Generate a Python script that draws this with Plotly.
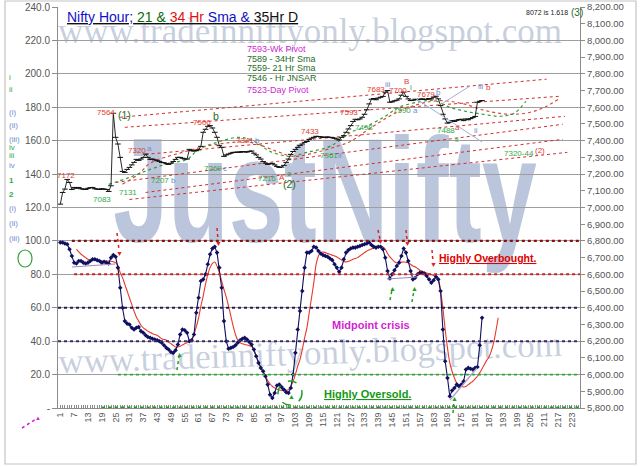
import plotly.graph_objects as go

# ---- data --------------------------------------------------------------------
bar_no = list(range(1, 185))
close = [
    7020, 7090, 7110, 7168, 7150, 7108, 7120, 7115, 7120, 7112,
    7110, 7108, 7115, 7118, 7120, 7112, 7110, 7108, 7112, 7110,
    7108, 7096, 7130, 7564, 7420, 7380, 7300, 7216, 7210, 7228,
    7240, 7255, 7270, 7288, 7282, 7290, 7300, 7320, 7300, 7288,
    7290, 7285, 7280, 7276, 7270, 7268, 7262, 7258, 7265, 7275,
    7288, 7300, 7300, 7295, 7290, 7290, 7348, 7340, 7338, 7340,
    7345, 7366, 7450, 7468, 7486, 7490, 7476, 7450, 7420, 7370,
    7360, 7306, 7315, 7320, 7325, 7330, 7330, 7332, 7330, 7335,
    7333, 7332, 7336, 7338, 7325, 7315, 7300, 7290, 7275, 7265,
    7258, 7262, 7264, 7255, 7245, 7240, 7242, 7252, 7270, 7290,
    7318, 7335, 7348, 7360, 7372, 7380, 7390, 7395, 7408, 7415,
    7420, 7426, 7425, 7422, 7420, 7420, 7422, 7420, 7418, 7415,
    7410, 7404, 7420, 7430, 7450, 7470, 7490, 7515, 7528, 7525,
    7530, 7540, 7558, 7585, 7620, 7648, 7652, 7645, 7655, 7660,
    7665, 7690, 7700, 7630, 7632, 7638, 7642, 7650, 7672, 7690,
    7665, 7650, 7640, 7642, 7648, 7645, 7648, 7650, 7646, 7648,
    7652, 7650, 7660, 7666, 7650, 7610, 7558, 7530, 7505, 7510,
    7520, 7515, 7522, 7526, 7528, 7520, 7530, 7525, 7532, 7538,
    7545, 7630, 7636, 7640,
]
osc = [
    99, 99, 98.5, 98, 95, 91, 87, 86.5, 88, 88,
    87, 86.5, 87, 88, 89, 89, 88.5, 88, 87, 87.5,
    87, 86.5, 90, 91.5, 90.5, 84, 72, 60, 52, 50.5,
    50, 48, 47, 48, 48.5, 46, 45, 43.5, 42.5, 42,
    41.5, 41, 40.5, 40, 39, 37.5, 36, 35, 33.5, 33,
    34.5, 38, 44, 47, 46.5, 45, 40, 40.5, 44, 57,
    66, 76, 77, 80, 86, 92, 95.5, 96.5, 93, 84,
    72, 52, 40, 35.5, 36, 36.5, 37.5, 39, 40.5, 41.5,
    42, 41, 39.5, 38, 35, 31, 27, 24, 22, 19,
    14, 8, 6, 9, 13.5, 14, 12.5, 11, 9.5, 9,
    12, 20, 33, 47, 58, 70, 84, 93, 93, 94,
    96.5, 96, 94, 92.5, 91.5, 91, 90.5, 89.5, 88.5, 86,
    84, 81.5, 84, 89, 93, 94.5, 95.5, 96, 96, 96.5,
    97, 97.5, 98, 98.5, 99, 97.5, 96.5, 96, 96.5, 96.5,
    95, 90, 82, 77.5, 80, 82.5, 85, 87, 91, 95.5,
    93, 88, 82, 77, 78, 80, 81, 81, 80.5, 79,
    77, 75, 76.5, 78.5, 77, 70, 47, 28, 18, 7,
    10.5, 12, 14, 13, 14, 16, 23, 24, 23.5, 23,
    24, 24.5, 37.5, 54,
]
signal_no = list(range(8, 192))
signal = [
    95, 93.5, 92, 91, 90, 89, 88.5, 88.5, 88.5, 88.3,
    88.2, 88, 88, 88, 88, 87.8, 87.5, 87, 85, 81,
    78, 74, 70, 66, 62, 58, 54.5, 52, 49.5, 48,
    47, 46, 45.2, 44.5, 44, 43.5, 42.5, 41.5, 41, 40.7,
    39.5, 38.5, 37.5, 36.5, 36.5, 37, 37.7, 38.5, 39, 40,
    40.7, 44, 48.5, 54, 61, 67, 74, 80, 84, 86.5,
    87.4, 85, 81, 76, 71, 66.5, 61, 55, 49, 44,
    40.5, 39, 38.5, 38, 37.7, 37.3, 36.8, 35, 31, 27.5,
    24, 22, 19.5, 16.5, 14.5, 13, 12, 11.2, 10.8, 10.5,
    10.5, 10.6, 11, 13, 16, 20, 25, 29, 35, 42,
    48, 57, 66, 75, 86, 91, 93, 93.4, 93, 92.5,
    92, 91.5, 91, 90.4, 89.5, 88.5, 87.8, 87.4, 87.8, 88.4,
    89, 89.5, 90, 91, 92, 93, 94, 94.6, 95.2, 95.7,
    96, 96.3, 96.4, 96.4, 95, 92.5, 90.4, 89, 87.5, 86.8,
    87, 87.3, 87.4, 87.2, 86.9, 86, 85, 84.5, 83.5, 82.5,
    81.8, 81.2, 80.8, 80.3, 79.8, 79.3, 78.6, 77, 70, 60,
    47, 36, 27, 22, 18, 15, 14, 13, 12.6, 12.8,
    14, 15, 16, 17.5, 19, 21, 23.5, 26, 28.5, 30.5,
    34, 39, 46, 54,
]
sma21_no = [22, 31, 40, 48, 56, 61, 69, 79, 86, 92, 101, 108, 117, 121, 127,
            133, 142, 148, 156, 163, 170, 177, 184, 192, 198, 203]
sma21 = [7138, 7180, 7228, 7264, 7288, 7348, 7390, 7420, 7390, 7336, 7306, 7330,
         7360, 7390, 7450, 7480, 7546, 7600, 7630, 7640, 7600, 7575, 7559, 7546,
         7565, 7635]
sma34_no = [28, 35, 40, 54, 69, 83, 95, 102, 112, 121, 127, 135, 147, 157, 166,
            176, 186, 196, 205, 212, 217]
sma34 = [7140, 7200, 7265, 7330, 7378, 7390, 7336, 7306, 7330, 7366, 7396, 7470,
         7570, 7620, 7640, 7620, 7578, 7558, 7570, 7606, 7648]
# hand drawn channel lines: (bar, price) -> (bar, price)
channels = [
    (27, 7540, 212, 7768),
    (29, 7480, 218, 7666),
    (38, 7318, 220, 7546),
    (25, 7150, 219, 7498),
    (38, 7090, 219, 7408),
    (31, 7048, 221, 7330),
]
left_ticks = list(range(0, 241, 20))
left_labels = ["-"] + [f"{v:.1f}" for v in left_ticks[1:]]
right_ticks = list(range(5800, 8201, 100))
x_ticks = list(range(1, 224, 6))
pivots = ["7593-Wk Pivot", "7589 - 34Hr Sma", "7559- 21 Hr Sma",
          "7546 - Hr JNSAR", "7523-Day Pivot"]

RED = "#e23a2e"
GREEN = "#35a84a"
DKGREEN = "#1f6b1f"
BLUE = "#6f8fd0"
MAGENTA = "#d21fd2"
NAVY = "#101060"
FONT = "Liberation Sans, Arial, sans-serif"


def px(x):
    return (x - 58) / 522


def py(y):
    return (408 - y) / 401


fig = go.Figure()

for x0, p0, x1, p1 in channels:
    fig.add_trace(go.Scatter(x=[x0, x1], y=[p0, p1], yaxis="y2", mode="lines",
                             line=dict(color="#d03030", width=1, dash="dot"),
                             hoverinfo="skip", showlegend=False))
fig.add_trace(go.Scatter(x=sma34_no, y=sma34, yaxis="y2", mode="lines",
                         line=dict(color="#d84a3a", width=1.2, dash="dot", shape="spline"),
                         showlegend=False))
fig.add_trace(go.Scatter(x=sma21_no, y=sma21, yaxis="y2", mode="lines",
                         line=dict(color="#3a9a3a", width=1.2, dash="dot", shape="spline"),
                         showlegend=False))
fig.add_trace(go.Scatter(x=bar_no, y=close, yaxis="y2", mode="lines+markers",
                         line=dict(color="#111111", width=0.9),
                         marker=dict(symbol="line-ew", size=4, line=dict(color="#111111", width=1)),
                         showlegend=False))
fig.add_trace(go.Scatter(x=signal_no, y=signal, mode="lines",
                         line=dict(color="#e8392a", width=1.1, shape="spline"),
                         showlegend=False))
fig.add_trace(go.Scatter(x=bar_no, y=osc, mode="lines+markers",
                         line=dict(color=NAVY, width=1.1),
                         marker=dict(symbol="diamond", size=3.5, color=NAVY),
                         showlegend=False))

shapes = []
# oscillator reference levels
level_style = [
    (100, 6, "#8a1010", 2.2), (80, 7, "#d02020", 2), (60, 0, "#2a1850", 2),
    (40, 0, "#3a2a70", 2), (20, 26, "#2faa2f", 1.6), (0, 19, "#1d9a1d", 3.2),
]
for lvl, start, color, width in level_style:
    shapes.append(dict(type="line", xref="x", yref="y", x0=start, x1=226.5, y0=lvl, y1=lvl,
                       line=dict(color=color, width=width, dash="dot")))

# watermarks (below the data)
shapes.append(dict(type="rect", xref="paper", yref="paper", x0=px(60), x1=px(560),
                   y0=py(46), y1=py(8), layer="below", line=dict(width=0),
                   label=dict(text="www.tradeinniftyonly.blogspot.com",
                              font=dict(family="Liberation Serif, serif", size=35,
                                        color="rgba(120,140,178,0.42)"))))
shapes.append(dict(type="rect", xref="paper", yref="paper", x0=px(60), x1=px(560),
                   y0=py(372), y1=py(326), layer="below", line=dict(width=0),
                   label=dict(text="www.tradeinniftyonly.blogspot.com", textangle=-2,
                              font=dict(family="Liberation Serif, serif", size=35,
                                        color="rgba(120,140,178,0.42)"))))
shapes.append(dict(type="rect", xref="paper", yref="paper", x0=px(120), x1=px(530),
                   y0=py(236), y1=py(126), layer="below", line=dict(width=0),
                   label=dict(text="JustNifty",
                              font=dict(family=FONT, size=99, weight="bold",
                                        color="rgba(120,140,185,0.5)"))))

# decorations drawn on the chart (pixel positions)
def seg(x0, y0, x1, y1, color, width=1.5, dash="dot"):
    shapes.append(dict(type="line", xref="paper", yref="paper", x0=px(x0), y0=py(y0),
                       x1=px(x1), y1=py(y1), line=dict(color=color, width=width, dash=dash)))


for x0, y0, x1, y1 in [(117, 233, 119, 250), (217, 228, 218, 240), (378, 230, 380, 239),
                       (406, 230, 407, 240), (432, 250, 433, 262)]:
    seg(x0, y0, x1, y1, "#e02020")
for x0, y0, x1, y1 in [(177, 370, 179, 356), (390, 300, 392, 290), (412, 302, 414, 290),
                       (453, 413, 454, 400)]:
    seg(x0, y0, x1, y1, "#20a020")
seg(22, 428, 36, 419, "#d21fd2")
seg(72, 267, 115, 264, "#a08ac8", 1.2, "solid")
seg(387, 279, 417, 277, "#a08ac8", 1.2, "solid")
seg(450, 400, 477, 368, "#a8a0c8", 1.2, "solid")
seg(415, 98, 482, 142, "#9fb2d8", 1, "solid")
seg(443, 103, 470, 86, "#9fb2d8", 1, "solid")
shapes.append(dict(type="circle", xref="paper", yref="paper", x0=px(278), x1=px(302),
                   y0=py(405), y1=py(381), line=dict(color="#20a020", width=1.5, dash="dash")))
shapes.append(dict(type="circle", xref="paper", yref="paper", x0=px(18), x1=px(32),
                   y0=py(267), y1=py(250), line=dict(color="#33a033", width=1.2)))
# outer frame
shapes.append(dict(type="rect", xref="paper", yref="paper", x0=px(5), x1=px(636),
                   y0=py(464), y1=py(1), line=dict(color="#c4c4c4", width=1.2)))

ann = []


def note(text, x, y, color, size=8, bold=False, anchor="center"):
    ann.append(dict(text=f"<b>{text}</b>" if bold else text, x=px(x), y=py(y),
                    xref="paper", yref="paper", showarrow=False, xanchor=anchor,
                    yanchor="middle", borderpad=0,
                    font=dict(family=FONT, size=size, color=color)))


note("<u><span style='color:#1010c8'>Nifty Hour;</span> <span style='color:#0a6a0a'>21 &amp;</span> "
     "<span style='color:#e01010'>34 Hr</span> <span style='color:#1010c8'>Sma &amp;</span> "
     "<span style='color:#111111'>35Hr D</span></u>", 66, 17, "#111111", size=14, anchor="left")
for text, y in zip(pivots, [49, 59, 68, 78, 90]):
    col = MAGENTA if "Pivot" in text else DKGREEN
    note(text, 246, y, col, size=9, anchor="left")

for text, color, x, y in [
    ("7172", RED, 66, 175), ("7083", GREEN, 102, 199), ("7131", GREEN, 128, 192),
    ("7564", RED, 106, 113), ("7320", RED, 137, 150), ("a", BLUE, 149, 148),
    ("7207", GREEN, 160, 180), ("b", BLUE, 173, 180), ("7506", RED, 202, 122),
    ("7269", GREEN, 213, 168), ("c", BLUE, 225, 168), ("7341", RED, 245, 141),
    ("b", BLUE, 257, 141), ("7216", GREEN, 267, 178), ("A", RED, 282, 177),
    ("c", GREEN, 289, 173), ("7433", RED, 310, 131), ("7361", GREEN, 329, 155),
    ("ii", BLUE, 340, 155), ("7593", RED, 349, 112), ("7498", GREEN, 364, 128),
    ("7683", RED, 376, 89), ("iii", BLUE, 388, 84), ("7700", RED, 398, 90),
    ("B", RED, 406, 81), ("i", GREEN, 411, 87), ("7679", RED, 426, 94),
    ("b", BLUE, 438, 92), ("7590", GREEN, 402, 111), ("a", BLUE, 415, 111),
    ("7488", GREEN, 446, 130), ("a", RED, 457, 128), ("ii", GREEN, 457, 139),
    ("ii", BLUE, 476, 130), ("iii", BLUE, 481, 86), ("b", RED, 488, 88),
    ("7320-44", GREEN, 519, 153), ("(2)", RED, 540, 150),
]:
    note(text, x, y, color)
for text, x, y in [("(1)", 124, 115), ("b", 216, 116), ("(2)", 289, 184)]:
    note(text, x, y, DKGREEN, size=10.5)
note("8072 is 1.618", 547, 12, "#222222", size=7)
note("(3)", 577, 12, DKGREEN, size=10)

for text, color, y in [("i", GREEN, 77), ("ii", GREEN, 89), ("(i)", BLUE, 113),
                       ("(ii)", BLUE, 126), ("(iii)", BLUE, 139), ("iv", GREEN, 147),
                       ("iii", GREEN, 155), ("iv", BLUE, 165), ("1", GREEN, 181),
                       ("2", GREEN, 194), ("(i)", BLUE, 208), ("(ii)", BLUE, 223),
                       ("(iii)", BLUE, 238)]:
    note(text, 8, y, color, size=8, bold=text in ("1", "2"), anchor="left")

for x, y in [(119, 253), (218, 243), (380, 241), (407, 243), (433, 264)]:
    note("▼", x, y, "#e02020", size=7)
for x, y in [(179, 354), (392, 288), (414, 288), (454, 398), (291, 396)]:
    note("▲", x, y, "#20a020", size=7)
note("▲", 38, 418, "#d21fd2", size=6)

note("<u>Highly Overbought.</u>", 488, 258, "#e00000", size=10.5, bold=True)
note("Midpoint crisis", 371, 325, "#d21fd2", size=11, bold=True)
note("<u>Highly Oversold.</u>", 367, 394, "#119911", size=11, bold=True)

fig.update_layout(
    width=640, height=467,
    margin=dict(l=58, r=60, t=7, b=59, autoexpand=False),
    paper_bgcolor="white", plot_bgcolor="white",
    shapes=shapes, annotations=ann, showlegend=False,
    font=dict(family=FONT, size=10, color="#444444"),
    xaxis=dict(range=[0, 226.5], tickvals=x_ticks, tickangle=-90, automargin=False,
               tickfont=dict(size=9, color="#555555"), showgrid=False, zeroline=False,
               showline=True, linecolor="#8c8c8c", ticks="inside", ticklen=3, tickcolor="#8c8c8c",
               minor=dict(dtick=1, tick0=0, ticks="inside", ticklen=3, tickcolor="#8c8c8c")),
    yaxis=dict(range=[0, 240], tickvals=left_ticks, ticktext=left_labels, automargin=False,
               tickfont=dict(size=10, color="#555555"), showgrid=True, gridcolor="#9e9e9e",
               gridwidth=1, zeroline=False, showline=True, linecolor="#8c8c8c",
               ticks="outside", ticklen=5, tickcolor="#8c8c8c"),
    yaxis2=dict(range=[5800, 8200], tickvals=right_ticks, tickformat=",.2f", overlaying="y",
                side="right", tickfont=dict(size=9.5, color="#555555"), showgrid=False,
                automargin=False, zeroline=False, showline=True, linecolor="#8c8c8c",
                ticks="outside", ticklen=4, tickcolor="#8c8c8c"),
)

# page setup: no body margin so the figure sits at the window origin,
# and the big watermark is stretched vertically like the original.
page_fix = """
document.body.style.margin = '0';
document.body.style.overflow = 'hidden';
document.querySelectorAll('text').forEach(function (t) {
  if (t.textContent === 'JustNifty') {
    t.style.transformBox = 'fill-box';
    t.style.transformOrigin = 'center';
    t.style.transform = 'scale(1, 1.5)';
  }
});
"""
fig.write_html("out.html", post_script=page_fix, config={"displayModeBar": False})
